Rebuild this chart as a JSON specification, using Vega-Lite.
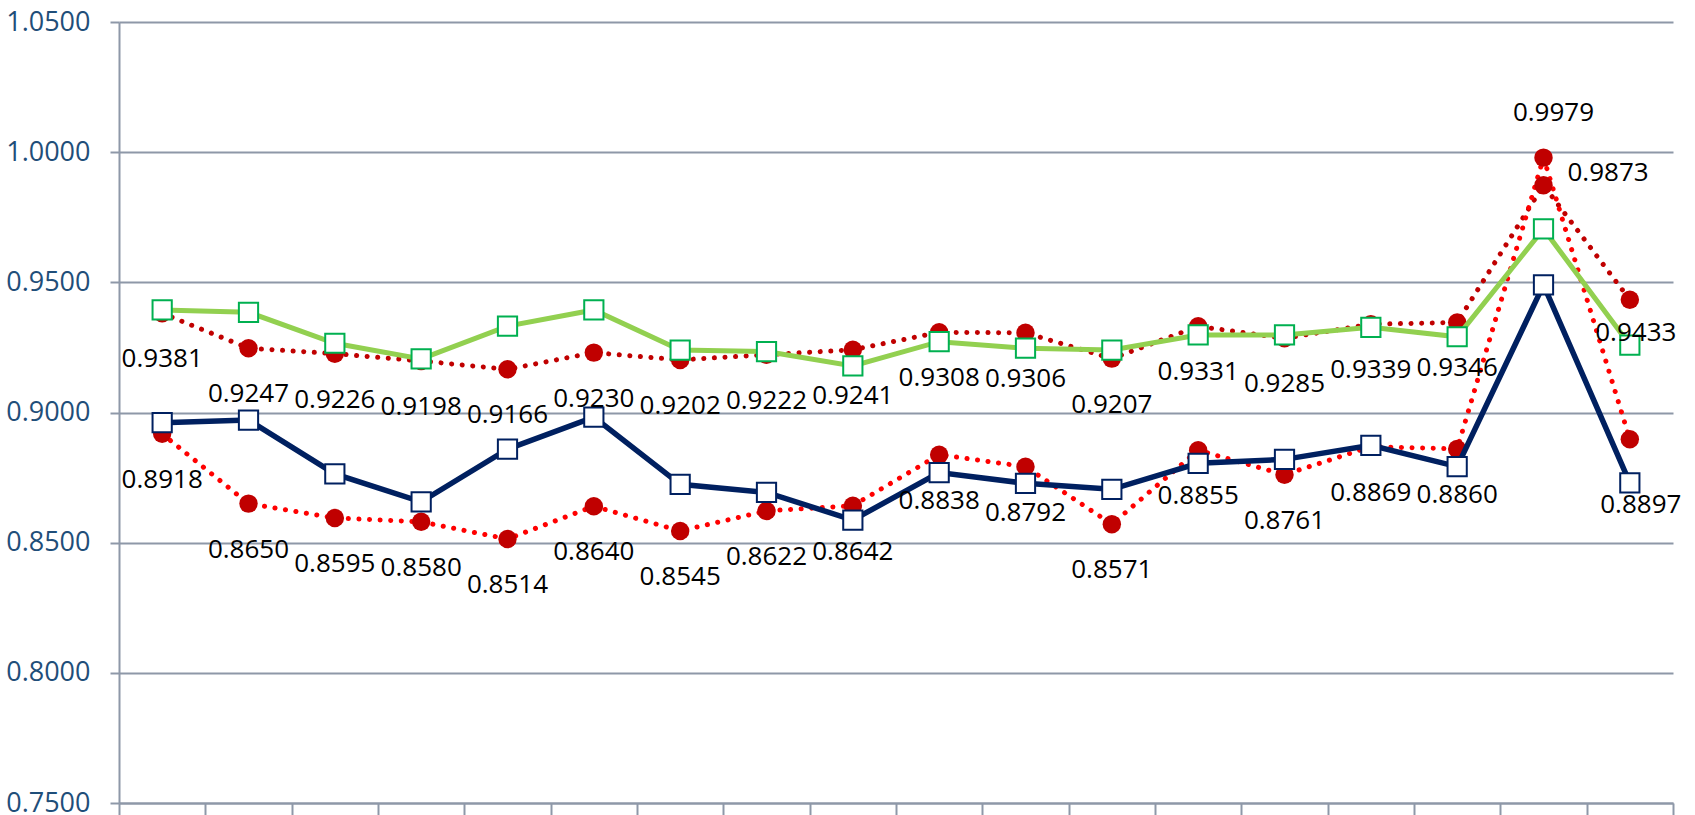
{
  "$schema": "https://vega.github.io/schema/vega-lite/v6.json",
  "width": 1554,
  "height": 781,
  "autosize": {"type": "none"},
  "padding": {"left": 119, "top": 22, "right": 22, "bottom": 12},
  "background": "white",
  "config": {"view": {"stroke": null}},
  "data": {"values": [
    {"i":1,"s":"A","v":0.9394},{"i":2,"s":"A","v":0.9385},{"i":3,"s":"A","v":0.9266},{"i":4,"s":"A","v":0.9206},{"i":5,"s":"A","v":0.9332},{"i":6,"s":"A","v":0.9394},{"i":7,"s":"A","v":0.9240},{"i":8,"s":"A","v":0.9234},{"i":9,"s":"A","v":0.9179},{"i":10,"s":"A","v":0.9272},{"i":11,"s":"A","v":0.9247},{"i":12,"s":"A","v":0.9240},{"i":13,"s":"A","v":0.9298},{"i":14,"s":"A","v":0.9298},{"i":15,"s":"A","v":0.9327},{"i":16,"s":"A","v":0.9291},{"i":17,"s":"A","v":0.9705},{"i":18,"s":"A","v":0.9259},
    {"i":1,"s":"B","v":0.8961},{"i":2,"s":"B","v":0.8971},{"i":3,"s":"B","v":0.8764},{"i":4,"s":"B","v":0.8657},{"i":5,"s":"B","v":0.8859},{"i":6,"s":"B","v":0.8982},{"i":7,"s":"B","v":0.8724},{"i":8,"s":"B","v":0.8693},{"i":9,"s":"B","v":0.8587},{"i":10,"s":"B","v":0.8769},{"i":11,"s":"B","v":0.8728},{"i":12,"s":"B","v":0.8705},{"i":13,"s":"B","v":0.8805},{"i":14,"s":"B","v":0.8820},{"i":15,"s":"B","v":0.8874},{"i":16,"s":"B","v":0.8792},{"i":17,"s":"B","v":0.9490},{"i":18,"s":"B","v":0.8730},
    {"i":1,"s":"C","v":0.9381},{"i":2,"s":"C","v":0.9247},{"i":3,"s":"C","v":0.9226},{"i":4,"s":"C","v":0.9198},{"i":5,"s":"C","v":0.9166},{"i":6,"s":"C","v":0.9230},{"i":7,"s":"C","v":0.9202},{"i":8,"s":"C","v":0.9222},{"i":9,"s":"C","v":0.9241},{"i":10,"s":"C","v":0.9308},{"i":11,"s":"C","v":0.9306},{"i":12,"s":"C","v":0.9207},{"i":13,"s":"C","v":0.9331},{"i":14,"s":"C","v":0.9285},{"i":15,"s":"C","v":0.9339},{"i":16,"s":"C","v":0.9346},{"i":17,"s":"C","v":0.9873},{"i":18,"s":"C","v":0.9433},
    {"i":1,"s":"D","v":0.8918},{"i":2,"s":"D","v":0.8650},{"i":3,"s":"D","v":0.8595},{"i":4,"s":"D","v":0.8580},{"i":5,"s":"D","v":0.8514},{"i":6,"s":"D","v":0.8640},{"i":7,"s":"D","v":0.8545},{"i":8,"s":"D","v":0.8622},{"i":9,"s":"D","v":0.8642},{"i":10,"s":"D","v":0.8838},{"i":11,"s":"D","v":0.8792},{"i":12,"s":"D","v":0.8571},{"i":13,"s":"D","v":0.8855},{"i":14,"s":"D","v":0.8761},{"i":15,"s":"D","v":0.8869},{"i":16,"s":"D","v":0.8860},{"i":17,"s":"D","v":0.9979},{"i":18,"s":"D","v":0.8897}
  ]},
  "encoding": {
    "x": {"field": "i", "type": "quantitative",
      "scale": {"domain": [0.5, 18.5], "nice": false, "zero": false},
      "axis": {"values": [0.5,1.5,2.5,3.5,4.5,5.5,6.5,7.5,8.5,9.5,10.5,11.5,12.5,13.5,14.5,15.5,16.5,17.5,18.5],
        "labels": false, "grid": false, "title": null, "tickSize": 15, "tickWidth": 2, "tickColor": "#8e98a8",
        "domainColor": "#8e98a8", "domainWidth": 2}},
    "y": {"field": "v", "type": "quantitative",
      "scale": {"domain": [0.75, 1.05], "nice": false, "zero": false},
      "axis": {"values": [0.75,0.8,0.85,0.9,0.95,1.0,1.05], "format": ".4f", "title": null,
        "grid": true, "gridColor": "#8e98a8", "gridWidth": 2,
        "tickSize": 9, "tickWidth": 2, "tickColor": "#8e98a8",
        "domainColor": "#8e98a8", "domainWidth": 2,
        "labelPadding": 20, "labelFont": "Open Sans", "labelFontSize": 27, "labelColor": "#1f4e79"}}
  },
  "layer": [
    {"transform": [{"filter": "datum.s == 'C'"}],
     "mark": {"type": "line", "stroke": "#c00000", "strokeWidth": 5, "strokeDash": [0.1, 10.5], "strokeCap": "round"}},
    {"transform": [{"filter": "datum.s == 'D'"}],
     "mark": {"type": "line", "stroke": "#ff0000", "strokeWidth": 5, "strokeDash": [0.1, 10.5], "strokeCap": "round"}},
    {"transform": [{"filter": "datum.s == 'C' || datum.s == 'D'"}],
     "mark": {"type": "point", "shape": "circle", "filled": true, "fill": "#c00000", "opacity": 1, "size": 340}},
    {"transform": [{"filter": "datum.s == 'A'"}],
     "mark": {"type": "line", "stroke": "#92d050", "strokeWidth": 5}},
    {"transform": [{"filter": "datum.s == 'A'"}],
     "mark": {"type": "point", "shape": "square", "filled": false, "fill": "white", "fillOpacity": 1, "stroke": "#00b050", "strokeWidth": 2, "opacity": 1, "size": 370}},
    {"transform": [{"filter": "datum.s == 'B'"}],
     "mark": {"type": "line", "stroke": "#002060", "strokeWidth": 5.5}},
    {"transform": [{"filter": "datum.s == 'B'"}],
     "mark": {"type": "point", "shape": "square", "filled": false, "fill": "white", "fillOpacity": 1, "stroke": "#002060", "strokeWidth": 2, "opacity": 1, "size": 370}},
    {"transform": [{"filter": "(datum.s == 'C' || datum.s == 'D') && datum.i <= 16"}],
     "mark": {"type": "text", "font": "Open Sans", "fontSize": 26, "color": "#000000", "baseline": "middle", "align": "center", "dy": 46},
     "encoding": {"text": {"field": "v", "type": "quantitative", "format": ".4f"}}},
    {"transform": [{"filter": "datum.s == 'C' && datum.i == 17"}],
     "mark": {"type": "text", "font": "Open Sans", "fontSize": 26, "color": "#000000", "baseline": "middle", "align": "left", "dx": 24, "dy": -12},
     "encoding": {"text": {"field": "v", "type": "quantitative", "format": ".4f"}}},
    {"transform": [{"filter": "datum.s == 'C' && datum.i == 18"}],
     "mark": {"type": "text", "font": "Open Sans", "fontSize": 26, "color": "#000000", "baseline": "middle", "align": "center", "dx": 6, "dy": 33},
     "encoding": {"text": {"field": "v", "type": "quantitative", "format": ".4f"}}},
    {"transform": [{"filter": "datum.s == 'D' && datum.i == 17"}],
     "mark": {"type": "text", "font": "Open Sans", "fontSize": 26, "color": "#000000", "baseline": "middle", "align": "center", "dx": 10, "dy": -45},
     "encoding": {"text": {"field": "v", "type": "quantitative", "format": ".4f"}}},
    {"transform": [{"filter": "datum.s == 'D' && datum.i == 18"}],
     "mark": {"type": "text", "font": "Open Sans", "fontSize": 26, "color": "#000000", "baseline": "middle", "align": "center", "dx": 11, "dy": 66},
     "encoding": {"text": {"field": "v", "type": "quantitative", "format": ".4f"}}}
  ]
}
